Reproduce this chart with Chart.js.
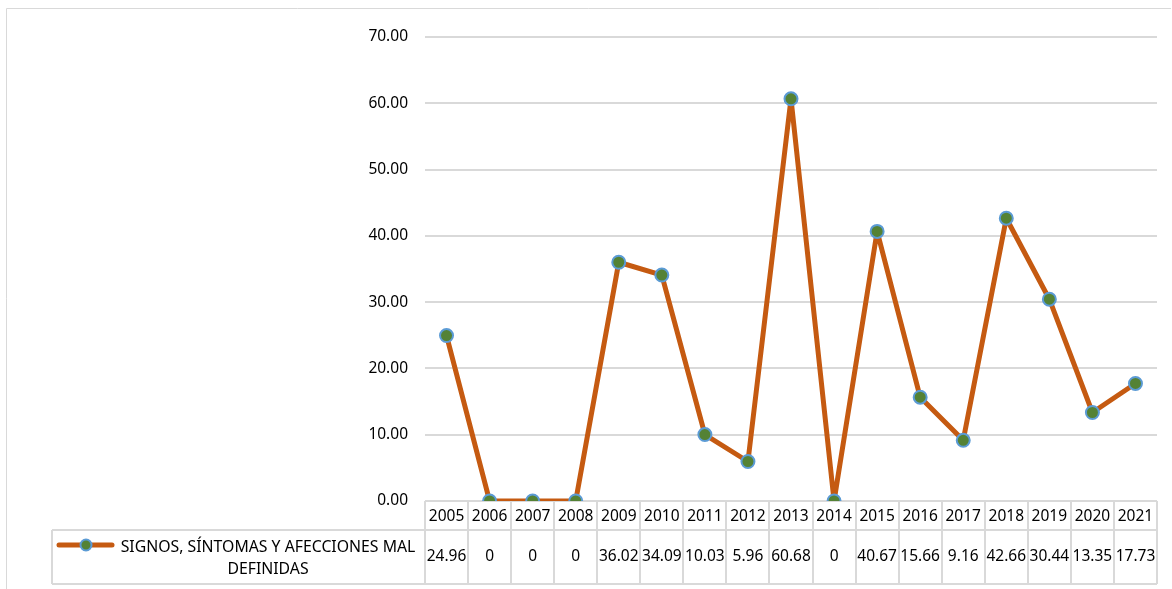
<!DOCTYPE html>
<html>
<head>
<meta charset="utf-8">
<script src="https://cdn.jsdelivr.net/npm/chart.js@4"></script>
<style>
  html, body { margin: 0; padding: 0; background: #fff; }
  #wrap { width: 1172px; height: 589px; position: relative; }
</style>
</head>
<body>
<div id="wrap"><canvas id="chart"></canvas></div>
<script>
const years = ['2005','2006','2007','2008','2009','2010','2011','2012','2013','2014','2015','2016','2017','2018','2019','2020','2021'];
const values = [24.96, 0, 0, 0, 36.02, 34.09, 10.03, 5.96, 60.68, 0, 40.67, 15.66, 9.16, 42.66, 30.44, 13.35, 17.73];
const seriesName = ['SIGNOS, SÍNTOMAS Y AFECCIONES MAL', 'DEFINIDAS'];

const lineColor = '#c55a11';
const markerFill = '#548235';
const markerBorder = '#5b9bd5';
const gridColor = '#d9d9d9';
const fontFamily = "'Noto Sans', 'Open Sans', sans-serif";

// draws the data table under the plot, from the x scale
const dataTable = {
  id: 'dataTable',
  afterDraw(chart) {
    const ctx = chart.ctx;
    const x = chart.scales.x;
    const area = chart.chartArea;
    const half = (x.getPixelForValue(1) - x.getPixelForValue(0)) / 2;
    const rowTop = area.bottom;
    const rowMid = rowTop + 29;
    const rowBot = rowTop + 83;
    const tableLeft = 52;

    ctx.save();
    // outer frame of the chart
    ctx.strokeStyle = gridColor;
    ctx.lineWidth = 1;
    ctx.beginPath();
    ctx.moveTo(6.5, 589);
    ctx.lineTo(6.5, 8.5);
    ctx.lineTo(1171, 8.5);
    ctx.stroke();

    ctx.lineWidth = 2;
    ctx.beginPath();
    ctx.moveTo(tableLeft, rowMid); ctx.lineTo(area.right, rowMid);
    ctx.moveTo(tableLeft, rowBot); ctx.lineTo(area.right, rowBot);
    ctx.moveTo(tableLeft, rowMid); ctx.lineTo(tableLeft, rowBot);
    for (let i = 0; i <= years.length; i++) {
      const px = Math.round(x.getPixelForValue(i) - half);
      ctx.moveTo(px, rowTop); ctx.lineTo(px, rowBot);
    }
    ctx.stroke();

    // values
    ctx.fillStyle = '#000';
    ctx.font = '15.5px ' + fontFamily;
    ctx.textAlign = 'center';
    ctx.textBaseline = 'middle';
    values.forEach((v, i) => {
      ctx.fillText(String(v), x.getPixelForValue(i), rowTop + 56);
    });

    // legend key
    ctx.strokeStyle = lineColor;
    ctx.lineWidth = 5;
    ctx.lineCap = 'round';
    ctx.beginPath();
    ctx.moveTo(59, rowMid + 15); ctx.lineTo(112, rowMid + 15);
    ctx.stroke();
    ctx.beginPath();
    ctx.arc(86, rowMid + 15, 5.5, 0, Math.PI * 2);
    ctx.fillStyle = markerFill;
    ctx.fill();
    ctx.lineWidth = 2;
    ctx.strokeStyle = markerBorder;
    ctx.stroke();

    ctx.fillStyle = '#000';
    ctx.font = '15.8px ' + fontFamily;
    ctx.fillText(seriesName[0], 268, rowMid + 17);
    ctx.fillText(seriesName[1], 268, rowMid + 39);
    ctx.restore();
  }
};

new Chart(document.getElementById('chart'), {
  type: 'line',
  data: {
    labels: years,
    datasets: [{
      label: seriesName.join(' '),
      data: values,
      borderColor: lineColor,
      borderWidth: 5,
      borderJoinStyle: 'round',
      borderCapStyle: 'round',
      tension: 0,
      pointRadius: 6.5,
      pointBackgroundColor: markerFill,
      pointBorderColor: markerBorder,
      pointBorderWidth: 2,
      pointHoverRadius: 6.5
    }]
  },
  options: {
    responsive: true,
    maintainAspectRatio: false,
    animation: false,
    layout: { padding: { top: 37, right: 15, bottom: 0, left: 0 } },
    plugins: {
      legend: { display: false },
      tooltip: { enabled: false }
    },
    scales: {
      x: {
        offset: true,
        grid: { display: false },
        border: { display: false },
        ticks: {
          color: '#000',
          font: { family: fontFamily, size: 15.5 },
          padding: -2,
          maxRotation: 0,
          autoSkip: false
        },
        afterFit(s) { s.height = 88; }
      },
      y: {
        min: 0,
        max: 70,
        grid: { color: gridColor, lineWidth: 2, drawTicks: false },
        border: { display: false },
        ticks: {
          stepSize: 10,
          color: '#000',
          font: { family: fontFamily, size: 15.5 },
          padding: 17,
          callback: v => v.toFixed(2)
        },
        afterFit(s) { s.width = 425; }
      }
    }
  },
  plugins: [dataTable]
});
</script>
</body>
</html>
